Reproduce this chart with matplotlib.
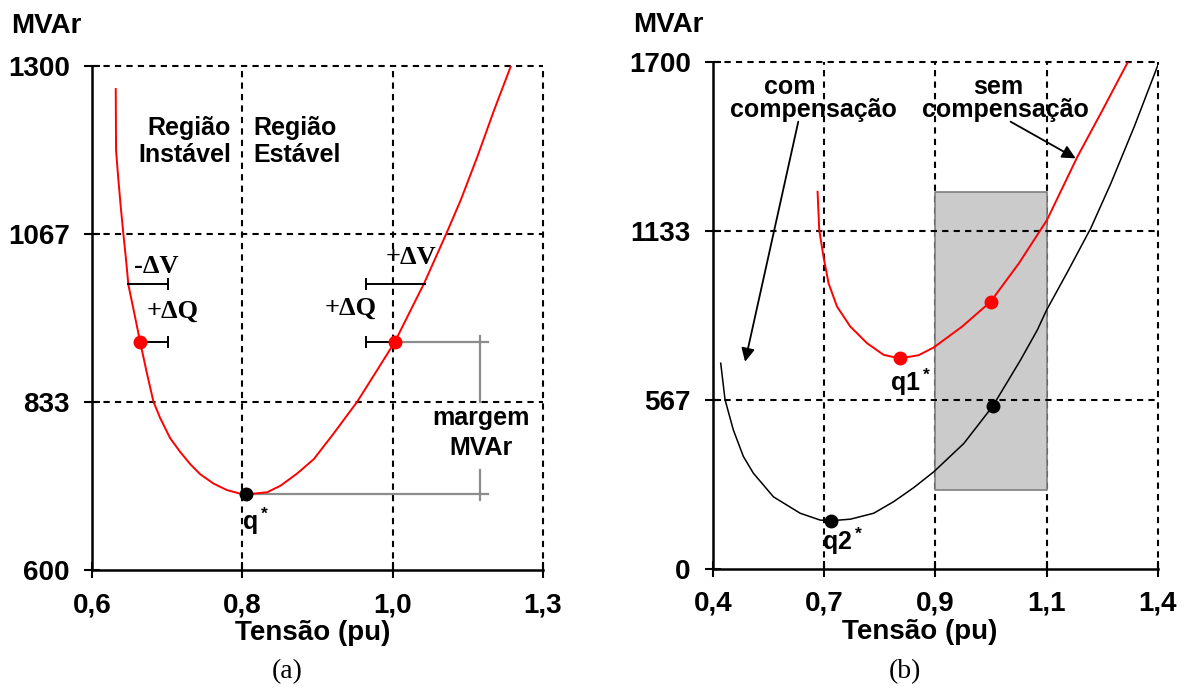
import numpy as np
import matplotlib
matplotlib.use("Agg")
import matplotlib.pyplot as plt

plt.rcParams["font.family"] = ["Liberation Sans", "DejaVu Sans"]
plt.rcParams["mathtext.default"] = "regular"

# (a) curva Q-V
v_ticks_a = [0.6, 0.8, 1.0, 1.3]
v_labels_a = ["0,6", "0,8", "1,0", "1,3"]
q_ticks_a = [600, 833, 1067, 1300]
v_a = [0.6316, 0.632, 0.6351, 0.6382, 0.6417, 0.6453, 0.6484, 0.656, 0.664,
       0.6727, 0.6817, 0.6907, 0.704, 0.7173, 0.7307, 0.744, 0.7617, 0.7796,
       0.7973, 0.8053, 0.833, 0.8507, 0.8729, 0.8951, 0.9218, 0.953, 0.9796,
       1.0045, 1.036, 1.0627, 1.107, 1.136, 1.169, 1.2026, 1.236]
q_a = [1268, 1183, 1142, 1105, 1067, 1031, 996, 958, 917,
       875, 834, 811, 783, 764, 747, 733, 720, 711,
       706, 705, 708, 717, 734, 754, 790, 834, 878,
       917, 961, 998, 1067, 1114, 1174, 1239, 1300]
pts_red_a = ([0.664, 1.0045], [917, 917])
q_star = (0.8053, 705)

# (b) com e sem compensacao
v_ticks_b = [0.4, 0.7, 0.9, 1.1, 1.4]
v_labels_b = ["0,4", "0,7", "0,9", "1,1", "1,4"]
q_ticks_b = [0, 567, 1133, 1700]
v_sem = [0.682, 0.6865, 0.698, 0.7078, 0.7229, 0.7468, 0.777, 0.8068,
         0.8357, 0.870, 0.897, 0.948, 0.999, 1.050, 1.1006, 1.142, 1.183,
         1.2506, 1.318]
q_sem = [1264, 1136, 1046, 957, 879, 812, 756, 717,
         705, 716, 742, 812, 895, 1024, 1169, 1276, 1382,
         1538, 1697]
v_com = [0.4208, 0.4324, 0.4549, 0.482, 0.509, 0.563, 0.635, 0.689, 0.7126,
         0.747, 0.789, 0.825, 0.861, 0.897, 0.951, 1.003, 1.053, 1.083,
         1.1, 1.156, 1.219, 1.273, 1.336, 1.4]
q_com = [689, 567, 465, 376, 320, 241, 186, 163, 161,
         166, 186, 225, 272, 325, 420, 545, 700, 800,
         868, 995, 1142, 1292, 1482, 1689]
pts_red_b = ([0.8357, 0.999], [705, 895])
pts_blk_b = ([0.7126, 1.003], [161, 545])
faixa_v = [0.9, 1.1]
faixa_q = [264, 1264]


def scale_funcs(ticks):
    idx = np.arange(len(ticks))
    return (lambda x: np.interp(x, ticks, idx),
            lambda i: np.interp(i, idx, ticks))


def style_axes(ax, vt, vl, qt):
    ax.set_xscale("function", functions=scale_funcs(vt))
    ax.set_xlim(vt[0], vt[-1])
    ax.set_ylim(qt[0], qt[-1])
    ax.set_xticks(vt)
    ax.set_xticklabels(vl)
    ax.set_yticks(qt)
    ax.set_yticklabels([str(q) for q in qt])
    ax.minorticks_off()
    for s in ["top", "right"]:
        ax.spines[s].set_visible(False)
    for s in ["left", "bottom"]:
        ax.spines[s].set_linewidth(1.8)
    ax.tick_params(direction="inout", length=12, width=1.5, labelsize=20)
    ax.tick_params(axis="x", pad=10)
    ax.tick_params(axis="y", pad=10)
    for lab in ax.get_xticklabels() + ax.get_yticklabels():
        lab.set_fontweight("bold")
    dash = dict(color="black", lw=1.5, ls=(0, (3, 2.5)), clip_on=False)
    for v in vt[1:]:
        ax.axvline(v, zorder=1, **dash)
    for q in qt[1:]:
        ax.axhline(q, zorder=2.5, **dash)


fig = plt.figure(figsize=(11.84, 6.91), dpi=100)
ax1 = fig.add_axes([0.0777, 0.1751, 0.3809, 0.7294])
ax2 = fig.add_axes([0.6022, 0.1770, 0.3758, 0.7337])

style_axes(ax1, v_ticks_a, v_labels_a, q_ticks_a)
style_axes(ax2, v_ticks_b, v_labels_b, q_ticks_b)

txt = dict(fontsize=18, fontweight="bold")
serif = dict(fontsize=19, fontweight="bold", family="Liberation Serif")
cap = dict(color="black", ms=8, mew=1.4, zorder=3)

# ---- painel (a)
ax1.plot(v_a, q_a, color="red", lw=1.4, zorder=3)
ax1.plot(*pts_red_a, "o", color="red", ms=9, zorder=4)
ax1.plot(*q_star, "o", color="black", ms=9, zorder=4)

# margem de MVAr
gray = dict(color="#8c8c8c", lw=1.6, zorder=2)
ax1.plot([q_star[0], 1.19], [q_star[1], q_star[1]], **gray)
ax1.plot([1.0045, 1.19], [917, 917], **gray)
ax1.plot([1.174, 1.174], [925, 833], **gray)
ax1.plot([1.174, 1.174], [739, 697], **gray)
ax1.text(1.176, 811, "margem", ha="center", va="center", **txt)
ax1.text(1.176, 769, "MVAr", ha="center", va="center", **txt)

# incrementos de tensao e potencia
seg = dict(color="black", lw=1.4, zorder=3)
ax1.plot([0.648, 0.7013], [997, 997], **seg)
ax1.plot([0.7013], [997], "|", **cap)
ax1.plot([0.664, 0.7013], [917, 917], **seg)
ax1.plot([0.7013], [917], "|", **cap)
ax1.plot([0.965, 1.064], [997, 997], **seg)
ax1.plot([0.965], [997], "|", **cap)
ax1.plot([0.965, 1.0045], [917, 917], **seg)
ax1.plot([0.965], [917], "|", **cap)
ax1.text(0.656, 1022, "-\u0394V", ha="left", va="center", **serif)
ax1.text(0.673, 959, "+\u0394Q", ha="left", va="center", **serif)
ax1.text(0.991, 1034, "+\u0394V", ha="left", va="center", **serif)
ax1.text(0.9095, 964, "+\u0394Q", ha="left", va="center", **serif)

ax1.text(0.785, 1195, "Região\nInstável", ha="right", va="center",
         linespacing=1.15, **txt)
ax1.text(0.8147, 1195, "Região\nEstável", ha="left", va="center",
         linespacing=1.15, **txt)
ax1.text(0.8, 668, "q$^*$", ha="left", va="center", **txt)

# ---- painel (b)
ax2.fill_between(faixa_v, faixa_q[0], faixa_q[1], facecolor="#cbcbcb",
                 edgecolor="#7f7f7f", lw=1.2, zorder=1.5)
ax2.plot(v_sem, q_sem, color="red", lw=1.4, zorder=3)
ax2.plot(v_com, q_com, color="black", lw=1.1, zorder=3)
ax2.plot(*pts_red_b, "o", color="red", ms=9, zorder=4)
ax2.plot(*pts_blk_b, "o", color="black", ms=9, zorder=4)
ax2.text(0.819, 626, "q1$^*$", ha="left", va="center", **txt)
ax2.text(0.6946, 91, "q2$^*$", ha="left", va="center", **txt)

ax2.text(0.6081, 1616, "com", ha="center", va="center", **txt)
ax2.text(0.670, 1538, "compensação", ha="center", va="center", **txt)
ax2.text(1.012, 1616, "sem", ha="center", va="center", **txt)
ax2.text(1.026, 1538, "compensação", ha="center", va="center", **txt)
arrow = dict(arrowstyle="-|>", color="black", lw=1.3, mutation_scale=20,
             shrinkA=0, shrinkB=0)
ax2.annotate("", xy=(0.4865, 694), xytext=(0.630, 1499), arrowprops=arrow)
ax2.annotate("", xy=(1.178, 1376), xytext=(1.035, 1499), arrowprops=arrow)

# rotulos dos eixos e legendas
lab = dict(fontsize=20, fontweight="bold", va="center")
fig.text(0.009, 0.962, "MVAr", ha="left", **lab)
fig.text(0.5346, 0.964, "MVAr", ha="left", **lab)
fig.text(0.2644, 0.084, "Tensão (pu)", ha="center", **lab)
fig.text(0.777, 0.085, "Tensão (pu)", ha="center", **lab)
fig.text(0.2424, 0.0275, "(a)", ha="center", va="center", fontsize=20,
         family="Liberation Serif")
fig.text(0.7644, 0.0275, "(b)", ha="center", va="center", fontsize=20,
         family="Liberation Serif")

fig.savefig("out.png", dpi=100)
